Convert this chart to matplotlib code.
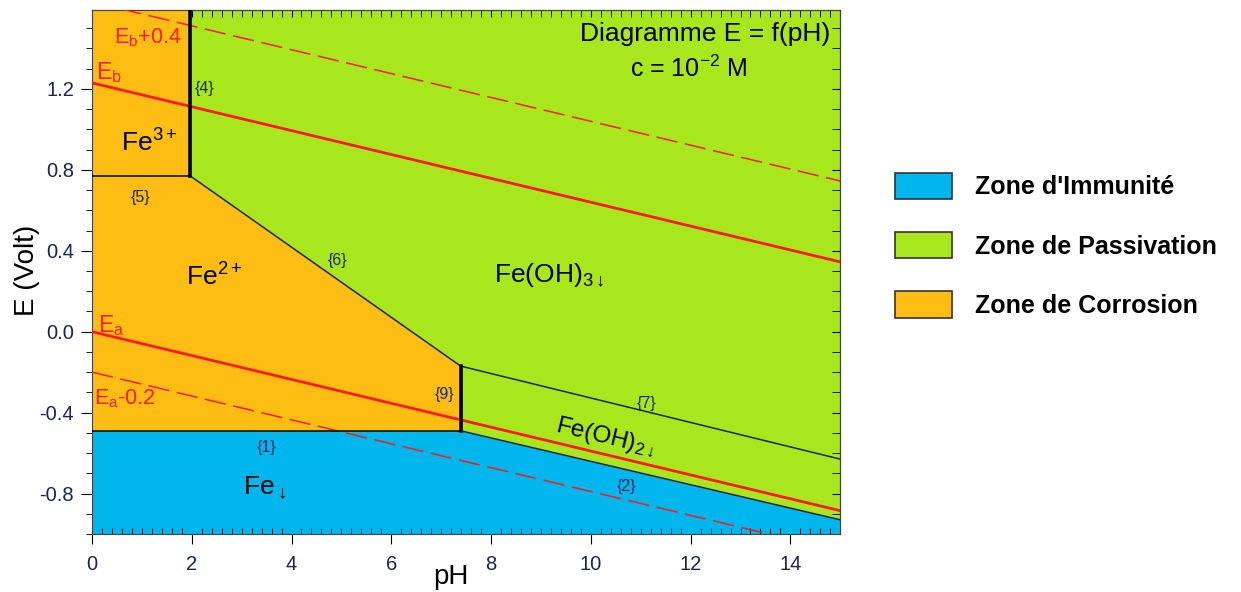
# Diagramme potentiel-pH du fer (c = 1e-2 M)
import matplotlib
matplotlib.use("Agg")
import matplotlib.pyplot as plt
from matplotlib.patches import Patch
from matplotlib.ticker import MultipleLocator

plt.rcParams['font.family'] = ['Liberation Sans', 'DejaVu Sans']
plt.rcParams['mathtext.fontset'] = 'custom'
plt.rcParams['mathtext.rm'] = 'Liberation Sans'
plt.rcParams['mathtext.it'] = 'Liberation Sans'
plt.rcParams['axes.unicode_minus'] = False

# Limits
ph_min, ph_max = 0, 15
e_min, e_max = -1.0, 1.59

# Frontieres (pH, E)
line1_ph, line1_E = [0, 7.39], [-0.49, -0.49]       # Fe2+ / Fe
line2_ph, line2_E = [7.39, 15], [-0.49, -0.93]      # Fe(OH)2 / Fe
line4_ph, line4_E = [1.97, 1.97], [0.77, 1.59]      # Fe3+ / Fe(OH)3
line5_ph, line5_E = [0, 1.97], [0.77, 0.77]         # Fe3+ / Fe2+
line6_ph, line6_E = [1.97, 7.39], [0.77, -0.17]     # Fe(OH)3 / Fe2+
line7_ph, line7_E = [7.39, 15], [-0.17, -0.63]      # Fe(OH)3 / Fe(OH)2
line9_ph, line9_E = [7.39, 7.39], [-0.49, -0.17]    # Fe2+ / Fe(OH)2

# Droites de l'eau
water_ph = [0, 15]
Eb = [1.23, 0.345]
Eb_plus = [1.63, 0.745]
Ea = [0.0, -0.885]
Ea_minus = [-0.2, -1.085]

c_immun = '#00b6ec'
c_passiv = '#a8e61e'
c_corros = '#fdbd12'
navy = '#1c2450'
red = '#ff1a1a'

fig = plt.figure(figsize=(12.41, 5.92), dpi=100)
ax = fig.add_axes([0.0741, 0.098, 0.603, 0.885])
ax.set_facecolor(c_passiv)

# Zones
ax.fill_between(line1_ph + line2_ph[1:], [e_min] * 3, line1_E + line2_E[1:],
                color=c_immun, lw=0, zorder=1)
corr_ph = [0, line1_ph[1], line9_ph[1], line6_ph[0], line4_ph[1], 0]
corr_E = [line1_E[0], line1_E[1], line9_E[1], line6_E[0], e_max, e_max]
ax.fill(corr_ph, corr_E, color=c_corros, lw=0, zorder=1)

# Eau
ax.plot(water_ph, Eb, color=red, lw=2, zorder=3)
ax.plot(water_ph, Ea, color=red, lw=2, zorder=3)
ax.plot(water_ph, Eb_plus, color=red, lw=1.1, dashes=(14, 5), zorder=3)
ax.plot(water_ph, Ea_minus, color=red, lw=1.1, dashes=(14, 5), zorder=3)

# Frontieres
for xs, ys in [(line1_ph, line1_E), (line5_ph, line5_E)]:
    ax.plot(xs, ys, color='black', lw=1.1, zorder=4)
for xs, ys in [(line2_ph, line2_E), (line6_ph, line6_E), (line7_ph, line7_E)]:
    ax.plot(xs, ys, color=navy, lw=1.1, zorder=4)
for xs, ys in [(line4_ph, line4_E), (line9_ph, line9_E)]:
    ax.plot(xs, ys, color='black', lw=2.6, zorder=5)

# Numeros des frontieres
for lab, x, y in [("{4}", 2.25, 1.2), ("{5}", 0.97, 0.665), ("{6}", 4.92, 0.35),
                  ("{9}", 7.06, -0.31), ("{1}", 3.5, -0.57), ("{7}", 11.12, -0.355),
                  ("{2}", 10.72, -0.765)]:
    ax.text(x, y, lab, fontsize=11.5, color=navy, ha='center', va='center', zorder=6)

# Especes
ax.text(1.15, 0.935, r'Fe$^{3+}$', fontsize=19, ha='center', va='center', zorder=6)
ax.text(2.45, 0.27, r'Fe$^{2+}$', fontsize=19, ha='center', va='center', zorder=6)
ax.text(9.16, 0.28, r'Fe(OH)$_{3\downarrow}$', fontsize=19, ha='center', va='center', zorder=6)
ax.text(10.3, -0.52, r'Fe(OH)$_{2\downarrow}$', fontsize=17.5, ha='center', va='center',
        rotation=-13.5, rotation_mode='anchor', zorder=6)
ax.text(3.45, -0.77, r'Fe$_{\downarrow}$', fontsize=19, ha='center', va='center', zorder=6)

# Droites de l'eau : etiquettes
ax.text(0.44, 1.455, r'E$_\mathregular{b}$+0.4', fontsize=15.5, color=red, va='center', zorder=6)
ax.text(0.08, 1.28, r'E$_\mathregular{b}$', fontsize=16.5, color=red, va='center', zorder=6)
ax.text(0.13, 0.03, r'E$_\mathregular{a}$', fontsize=16.5, color=red, va='center', zorder=6)
ax.text(0.05, -0.33, r'E$_\mathregular{a}$-0.2', fontsize=15.5, color=red, va='center', zorder=6)

ax.text(14.8, 1.47, 'Diagramme E = f(pH)', fontsize=19, ha='right', va='center', zorder=6)
ax.text(11.97, 1.3, r'c = 10$^{-2}$ M', fontsize=18, ha='center', va='center', zorder=6)

ax.set_xlim(ph_min, ph_max)
ax.set_ylim(e_min, e_max)
ax.xaxis.set_major_locator(MultipleLocator(2))
ax.xaxis.set_minor_locator(MultipleLocator(0.2))
ax.yaxis.set_minor_locator(MultipleLocator(0.1))
ax.set_yticks([-0.8, -0.4, 0.0, 0.4, 0.8, 1.2])
ax.set_yticklabels(['-0.8', '-0.4', '0.0', '0.4', '0.8', '1.2'])
ax.tick_params(axis='both', which='major', labelsize=14.5, labelcolor=navy)
ax.tick_params(axis='y', which='major', direction='out', length=8, pad=5)
ax.tick_params(axis='y', which='minor', direction='out', length=4.5)
ax.tick_params(axis='x', which='major', direction='out', length=7, pad=8)
ax.tick_params(axis='x', which='minor', direction='in', length=4)

top = ax.secondary_xaxis('top')
top.xaxis.set_major_locator(MultipleLocator(2))
top.xaxis.set_minor_locator(MultipleLocator(0.2))
top.tick_params(which='both', direction='in', labeltop=False, length=5)
right = ax.secondary_yaxis('right')
right.yaxis.set_major_locator(MultipleLocator(0.4))
right.yaxis.set_minor_locator(MultipleLocator(0.1))
right.tick_params(which='both', direction='in', labelright=False, length=6)

for sp in ax.spines.values():
    sp.set_color('#444444')

ax.set_xlabel('pH', fontsize=20)
ax.xaxis.set_label_coords(0.48, -0.058)
ax.set_ylabel('E (Volt)', fontsize=20)
ax.yaxis.set_label_coords(-0.07, 0.504)

handles = [Patch(facecolor=c_immun, edgecolor='#333333', lw=1.2),
           Patch(facecolor=c_passiv, edgecolor='#333333', lw=1.2),
           Patch(facecolor=c_corros, edgecolor='#333333', lw=1.2)]
labels = ["Zone d'Immunité", "Zone de Passivation", "Zone de Corrosion"]
fig.legend(handles, labels, loc='upper left', bbox_to_anchor=(0.721, 0.708),
           frameon=False, prop={'weight': 'bold', 'size': 18},
           handlelength=2.28, handleheight=1.25, labelspacing=1.3,
           handletextpad=0.92, borderpad=0, borderaxespad=0)

fig.savefig('out.png', dpi=100)
